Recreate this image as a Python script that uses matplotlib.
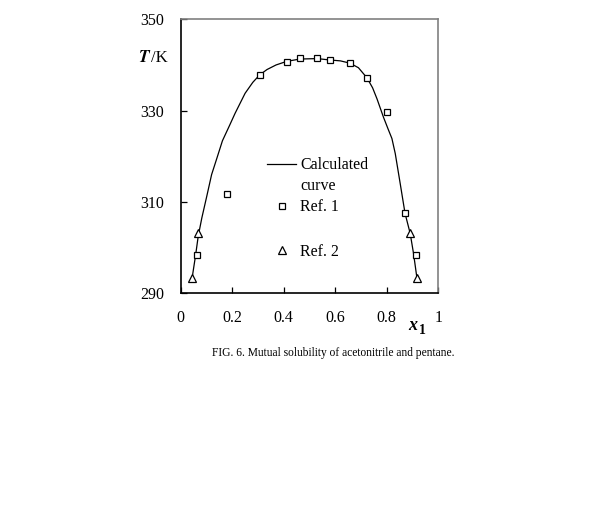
import matplotlib.pyplot as plt
from matplotlib.lines import Line2D

plt.rcParams['font.family'] = ['Liberation Serif', 'DejaVu Serif']

# calculated curve
curve_x = [0.045, 0.058, 0.068, 0.082, 0.101, 0.120, 0.140, 0.162, 0.190, 0.211,
           0.250, 0.280, 0.306, 0.335, 0.370, 0.412, 0.463, 0.530, 0.578, 0.620,
           0.657, 0.690, 0.723, 0.745, 0.762, 0.787, 0.805, 0.820, 0.833, 0.852,
           0.871, 0.891, 0.904, 0.917]
curve_T = [293.6, 298.4, 302.5, 306.5, 311.2, 316.0, 319.5, 323.4, 326.8, 329.4,
           333.8, 336.2, 337.8, 339.0, 340.0, 340.8, 341.3, 341.4, 341.1, 340.9,
           340.4, 339.4, 337.2, 335.0, 332.6, 328.6, 326.0, 323.9, 320.6, 314.1,
           307.5, 303.1, 298.7, 293.4]

# Ref. 1 (squares)
ref1_x = [0.062, 0.179, 0.306, 0.412, 0.463, 0.530, 0.578, 0.657, 0.724, 0.800, 0.871, 0.914]
ref1_T = [298.4, 311.8, 337.8, 340.7, 341.5, 341.5, 341.1, 340.5, 337.2, 329.7, 307.5, 298.4]

# Ref. 2 (triangles)
ref2_x = [0.045, 0.068, 0.891, 0.917]
ref2_T = [293.4, 303.1, 303.1, 293.3]

xticks = [0, 0.2, 0.4, 0.6, 0.8, 1]
xticklabels = ['0', '0.2', '0.4', '0.6', '0.8', '1']
yticks = [290, 310, 330, 350]

fig = plt.figure(figsize=(6.14, 5.07), dpi=100)
ax = fig.add_axes([0.2943, 0.4215, 0.4195, 0.5404])

line, = ax.plot(curve_x, curve_T, color='black', lw=0.9)
sq, = ax.plot(ref1_x, ref1_T, ls='none', marker='s', ms=5, mfc='white', mec='black',
              mew=0.9)
tri, = ax.plot(ref2_x, ref2_T, ls='none', marker='^', ms=5.5, mfc='white', mec='black',
               mew=0.9)

ax.set_xlim(0, 1)
ax.set_ylim(290, 350)
ax.set_xticks(xticks)
ax.set_xticklabels(xticklabels)
ax.set_yticks(yticks)
ax.tick_params(direction='in', length=4, width=0.9, labelsize=11.5, pad=12)

for s in ['top', 'right']:
    ax.spines[s].set_color('#808080')
    ax.spines[s].set_linewidth(1.2)
for s in ['left', 'bottom']:
    ax.spines[s].set_linewidth(1.2)

# axis labels placed like the original
fig.text(138 / 614, 1 - 58 / 507, r'$\boldsymbol{T}$', fontsize=12.5, va='center', ha='left',
         math_fontfamily='stix')
fig.text(151 / 614, 1 - 58 / 507, '/K', fontsize=12, va='center', ha='left')
fig.text(408 / 614, 1 - 326 / 507, 'x', fontsize=13, fontweight='bold', style='italic',
         va='center', ha='left')
fig.text(419 / 614, 1 - 331 / 507, '1', fontsize=10, fontweight='bold',
         va='center', ha='left')

# legend: "Calculated / curve" block, then the two references
blank = Line2D([], [], ls='none')
leg1 = ax.legend([line, blank], ['Calculated', 'curve'], loc='upper left',
                 bbox_to_anchor=(0.334, 0.497), frameon=False, fontsize=11.5,
                 handlelength=1.85, handletextpad=0.25, labelspacing=0.29,
                 borderpad=0, borderaxespad=0)
ax.add_artist(leg1)
ax.legend([sq, tri], ['Ref. 1', 'Ref. 2'], loc='upper left',
          bbox_to_anchor=(0.334, 0.343), frameon=False, fontsize=11.5,
          handlelength=1.85, handletextpad=0.25, labelspacing=1.79,
          borderpad=0, borderaxespad=0)

fig.text(333 / 614, 1 - 353 / 507, 'FIG. 6. Mutual solubility of acetonitrile and pentane.',
         fontsize=8.3, ha='center', va='center')

fig.savefig('out.png', dpi=100)
